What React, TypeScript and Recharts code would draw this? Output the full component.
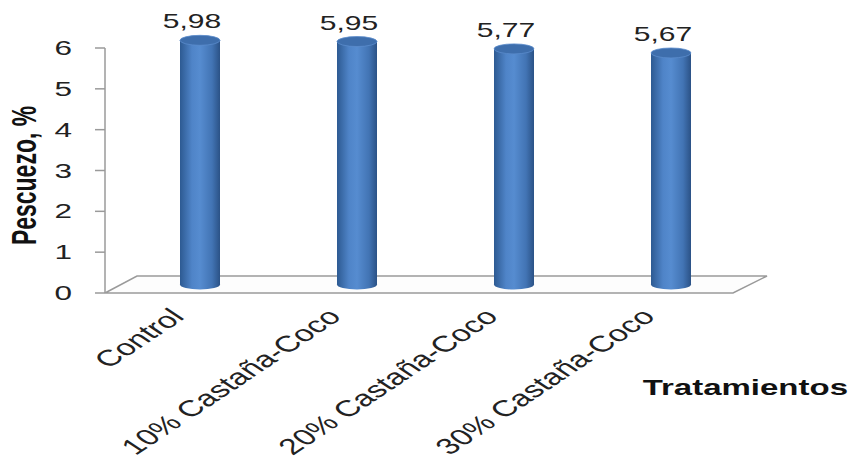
import { BarChart, Bar, XAxis, YAxis, ReferenceArea, LabelList, Label } from 'recharts';

const categories = ['Control', '10% Castaña-Coco', '20% Castaña-Coco', '30% Castaña-Coco'];
const pescuezo = [5.98, 5.95, 5.77, 5.67];
const yTicks = [0, 1, 2, 3, 4, 5, 6];

const data = categories.map((name, i) => ({ name, value: pescuezo[i] }));

const FONT = '"Liberation Sans", Arial, sans-serif';
const STRETCH = 1.5; // the original picture is stretched sideways
const DEPTH_X = 32;
const DEPTH_Y = 17;
const LINE = '#9a9a9a';

// 3d cylinder, sitting half way into the floor
const Cylinder = (props: any) => {
  const { x, y, width, height } = props;
  const cx = x + width / 2 + DEPTH_X / 2;
  const top = y - DEPTH_Y / 2;
  const bottom = y + height - DEPTH_Y / 2;
  const rx = width / 2;
  const ry = 5;
  return (
    <g>
      <ellipse cx={cx} cy={bottom} rx={rx} ry={ry} fill="url(#cyl)" />
      <rect x={cx - rx} y={top} width={width} height={bottom - top} fill="url(#cyl)" />
      <ellipse cx={cx} cy={top} rx={rx} ry={ry} fill="#3e6eac" stroke="#5a8bcb" strokeWidth={0.8} />
    </g>
  );
};

const Floor = (props: any) => {
  const { x, y, width, height } = props;
  const yb = y + height;
  const pts = [
    [x, yb],
    [x + width, yb],
    [x + width + DEPTH_X + 2, yb - DEPTH_Y],
    [x + DEPTH_X, yb - DEPTH_Y],
  ]
    .map((p) => p.join(','))
    .join(' ');
  return <polygon points={pts} fill="#fdfdfd" stroke={LINE} strokeWidth={1.5} />;
};

const YTick = (props: any) => {
  const { x, y, payload } = props;
  return (
    <g transform={`translate(${x},${y}) scale(${STRETCH},1)`}>
      <text x={0} y={0} dy={7} textAnchor="end" fontSize={21} fontFamily={FONT} fill="#222">
        {payload.value}
      </text>
    </g>
  );
};

const XTick = (props: any) => {
  const { x, payload } = props;
  return (
    <g transform={`translate(${x + 2},${318}) scale(${STRETCH},1) rotate(-45)`}>
      <text x={0} y={0} textAnchor="end" fontSize={22.5} fontFamily={FONT} fill="#222">
        {payload.value}
      </text>
    </g>
  );
};

const ValueLabel = (props: any) => {
  const { x, y, width, value } = props;
  const cx = x + width / 2 + DEPTH_X / 2 - 8;
  const top = y - DEPTH_Y / 2;
  return (
    <g transform={`translate(${cx},${top - 12}) scale(${STRETCH},1)`}>
      <text x={0} y={0} textAnchor="middle" fontSize={20} fontFamily={FONT} fill="#222">
        {value.toFixed(2).replace('.', ',')}
      </text>
    </g>
  );
};

const YTitle = (props: any) => {
  const { viewBox } = props;
  const cy = viewBox.y + viewBox.height / 2 + 5;
  return (
    <g transform={`translate(${viewBox.x + 25},${cy}) scale(${STRETCH},1) rotate(-90)`}>
      <text x={0} y={0} dy={7} textAnchor="middle" fontSize={23} fontWeight="bold" fontFamily={FONT} fill="#111">
        Pescuezo, %
      </text>
    </g>
  );
};

const XTitle = (props: any) => {
  const { viewBox } = props;
  return (
    <g transform={`translate(${viewBox.x + viewBox.width + 115},${viewBox.y + 102}) scale(${STRETCH},1)`}>
      <text x={0} y={0} textAnchor="end" fontSize={22} fontWeight="bold" fontFamily={FONT} fill="#111">
        Tratamientos
      </text>
    </g>
  );
};

export default function App() {
  return (
    <div style={{ position: 'absolute', left: 0, top: 0, width: 853, height: 468, background: '#fff' }}>
      <BarChart width={853} height={468} data={data} margin={{ top: 48, right: 120, bottom: 0, left: 0 }}>
        <defs>
          <linearGradient id="cyl" x1="0" y1="0" x2="1" y2="0">
            <stop offset="0%" stopColor="#2d5a92" />
            <stop offset="30%" stopColor="#4f84c8" />
            <stop offset="50%" stopColor="#568cd0" />
            <stop offset="80%" stopColor="#4274b4" />
            <stop offset="100%" stopColor="#2b5286" />
          </linearGradient>
        </defs>
        <ReferenceArea y1={0} y2={6} shape={<Floor />} ifOverflow="visible" />
        <XAxis
          dataKey="name"
          axisLine={false}
          tickLine={false}
          height={175}
          interval={0}
          tick={<XTick />}
        >
          <Label content={<XTitle />} />
        </XAxis>
        <YAxis
          domain={[0, 6]}
          ticks={yTicks}
          width={105}
          tickSize={10}
          tickMargin={23}
          axisLine={{ stroke: LINE, strokeWidth: 1.5 }}
          tickLine={{ stroke: LINE, strokeWidth: 1.5 }}
          tick={<YTick />}
        >
          <Label content={<YTitle />} />
        </YAxis>
        <Bar dataKey="value" barSize={40} shape={<Cylinder />} isAnimationActive={false}>
          <LabelList dataKey="value" content={<ValueLabel />} />
        </Bar>
      </BarChart>
    </div>
  );
}
